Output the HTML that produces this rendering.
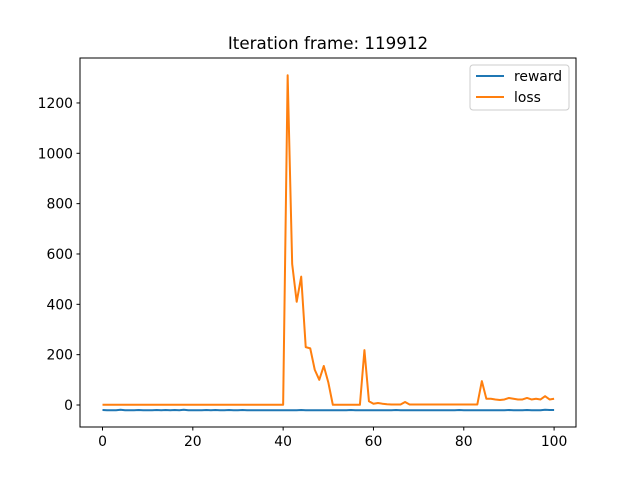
<!DOCTYPE html>
<html><head><meta charset="utf-8"><style>
body{margin:0;background:#fff;font-family:"Liberation Sans","DejaVu Sans",sans-serif;}
svg text{font-family:"DejaVu Sans","Liberation Sans",sans-serif;}
</style></head><body>
<svg id="chart" width="640" height="480" xmlns="http://www.w3.org/2000/svg">
<rect width="640" height="480" fill="#fff"/>
<text x="328" y="49" font-size="16.7" text-anchor="middle">Iteration frame: 119912</text>
<g id="plot"></g>
<rect x="80" y="58" width="496" height="369" fill="none" stroke="#000" stroke-width="1"/>
<g>
<rect x="470" y="65" width="99" height="45" rx="3" fill="#fff" stroke="#ccc"/>
<line x1="476" y1="76" x2="504" y2="76" stroke="#1f77b4" stroke-width="2"/>
<text x="514" y="81" font-size="13.9">reward</text>
<line x1="476" y1="97" x2="504" y2="97" stroke="#ff7f0e" stroke-width="2"/>
<text x="514" y="102" font-size="13.9">loss</text>
</g>
</svg>
<script>
const xTicks=[0,20,40,60,80,100];
const yTicks=[0,200,400,600,800,1000,1200];
const lossValues=[1,1,1,1,1,1,1,1,1,1,1,1,1,1,1,1,1,1,1,1,1,1,1,1,1,1,1,1,1,1,1,1,1,1,1,1,1,1,1,1,1,
1310,560,410,510,230,225,140,100,155,90,1,1,1,1,1,1,1,218,15,5,8,5,3,2,2,2,12,2,2,2,2,2,2,2,2,2,2,2,2,2,2,2,2,
95,25,25,22,20,22,28,25,22,22,28,22,25,22,35,22,25];
const rewardValues=[-20,-21,-21,-21,-19,-21,-21,-21,-20,-21,-21,-21,-20,-21,-20,-21,-20,-21,-19,-21,-21,-21,-21,-20,-21,-20,-21,-21,-20,-21,-21,-20,-21,-21,-21,-21,-21,-21,-21,-21,-21,-21,-21,-21,-20,-21,-21,-21,-21,-21,-21,-21,-21,-21,-21,-20,-21,-21,-21,-21,-21,-21,-21,-21,-21,-20,-21,-21,-21,-21,-21,-21,-21,-21,-21,-21,-21,-21,-21,-20,-21,-21,-21,-21,-21,-21,-21,-21,-21,-21,-20,-21,-21,-21,-20,-21,-21,-21,-19,-20,-20];
const NS="http://www.w3.org/2000/svg";
const xS=v=>102.5+v*4.516;
const yS=v=>405-v*0.2517;
const g=document.getElementById('plot');
function mk(t,a){const e=document.createElementNS(NS,t);for(const k in a)e.setAttribute(k,a[k]);g.appendChild(e);return e;}
xTicks.forEach(t=>{
 const l=mk('line',{x1:xS(t),x2:xS(t),y1:427,y2:430.5,stroke:'#000'});
 
 
 const tx=mk('text',{x:xS(t),y:446,'font-size':13.9,'text-anchor':'middle'});tx.textContent=t;
 
 
});
yTicks.forEach(t=>{
 const l=mk('line',{x1:76.5,x2:80,y1:yS(t),y2:yS(t),stroke:'#000'});
 
 
 const tx=mk('text',{x:73,y:yS(t)+5,'font-size':13.9,'text-anchor':'end'});tx.textContent=t;
 
 
});
function line(vals,color,name){
 const p=mk('polyline',{points:vals.map((v,i)=>xS(i)+','+yS(v)).join(' '),fill:'none',stroke:color,'stroke-width':2,'stroke-linejoin':'round'});
 
 
}
line(rewardValues,'#1f77b4','reward-line');
line(lossValues,'#ff7f0e','loss-line');
</script>
</body></html>
